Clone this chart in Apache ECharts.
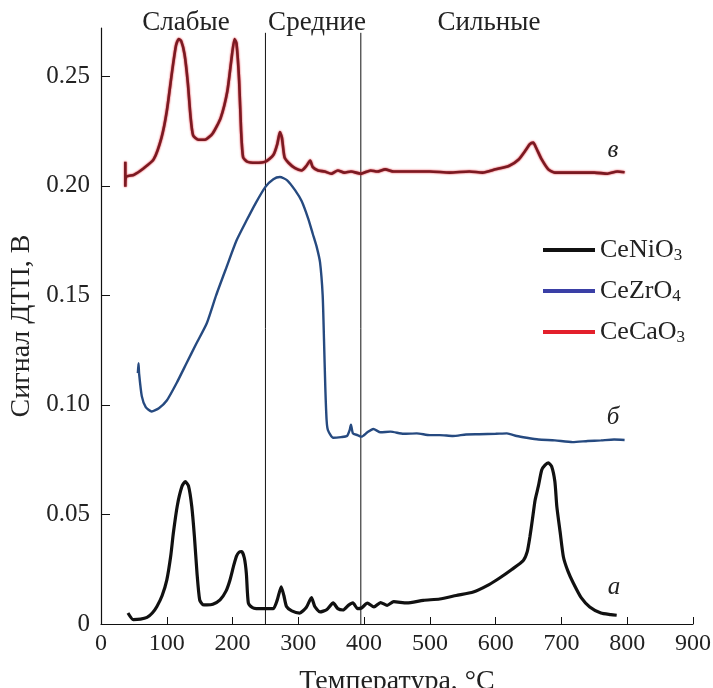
<!DOCTYPE html>
<html>
<head>
<meta charset="utf-8">
<style>
  html, body { margin: 0; padding: 0; background: #fff; }
  #chart { width: 713px; height: 688px; }
</style>
<script src="https://cdn.jsdelivr.net/npm/echarts@6/dist/echarts.min.js"></script>
</head>
<body>
<div id="chart"></div>
<script>
// --- data ---
var niTemp = [41, 49, 60, 70, 78, 85, 93, 100, 106, 110, 116, 123, 128, 133, 138, 142, 146, 150, 155, 161, 170, 181, 190, 196, 202, 206, 210, 214, 218, 221, 224, 230, 236, 250, 262, 268, 274, 278, 282, 290, 302, 312, 320, 325, 333, 343, 353, 360, 368, 376, 383, 390, 396, 405, 415, 425, 435, 445, 465, 490, 515, 540, 566, 590, 606, 625, 642, 648, 652, 656, 660, 665, 670, 675, 680, 685, 690, 693, 698, 703, 710, 718, 730, 743, 760, 775, 784];
var niSignal = [0.005, 0.002, 0.0022, 0.003, 0.005, 0.008, 0.013, 0.020, 0.031, 0.0415, 0.054, 0.0627, 0.065, 0.063, 0.0536, 0.040, 0.023, 0.011, 0.0088, 0.0087, 0.009, 0.011, 0.015, 0.020, 0.027, 0.031, 0.0328, 0.033, 0.030, 0.023, 0.0096, 0.0075, 0.007, 0.007, 0.007, 0.011, 0.017, 0.013, 0.008, 0.006, 0.005, 0.0075, 0.012, 0.008, 0.0055, 0.0065, 0.0096, 0.007, 0.0064, 0.0085, 0.0096, 0.007, 0.0073, 0.0095, 0.0078, 0.0098, 0.0085, 0.0102, 0.0096, 0.0108, 0.0114, 0.013, 0.0146, 0.018, 0.021, 0.025, 0.029, 0.033, 0.0397, 0.048, 0.0566, 0.063, 0.0703, 0.0725, 0.0735, 0.072, 0.065, 0.0536, 0.042, 0.0306, 0.024, 0.0187, 0.012, 0.0078, 0.005, 0.0043, 0.004];

var zrTemp = [56, 57, 58, 62, 68, 77, 88, 100, 115, 130, 145, 161, 175, 191, 206, 221, 235, 250, 262, 272, 283, 295, 305, 315, 322, 328, 333, 337, 339, 341, 343, 345, 353, 365, 374, 378, 380, 383, 390, 396, 405, 414, 425, 440, 460, 480, 500, 515, 535, 555, 575, 600, 617, 632, 647, 665, 690, 717, 740, 760, 780, 796];
var zrSignal = [0.1145, 0.119, 0.114, 0.104, 0.099, 0.097, 0.0985, 0.102, 0.110, 0.119, 0.128, 0.1374, 0.150, 0.163, 0.175, 0.184, 0.192, 0.1995, 0.203, 0.204, 0.2025, 0.198, 0.193, 0.185, 0.178, 0.172, 0.165, 0.150, 0.130, 0.108, 0.093, 0.0885, 0.085, 0.0853, 0.0858, 0.0885, 0.091, 0.087, 0.0862, 0.0855, 0.0875, 0.089, 0.0875, 0.0878, 0.0868, 0.087, 0.0862, 0.0862, 0.0858, 0.0865, 0.0866, 0.0868, 0.087, 0.0858, 0.085, 0.0842, 0.0838, 0.083, 0.0835, 0.0838, 0.0842, 0.084];

var caTemp = [37, 37, 38, 50, 65, 80, 92, 100, 108, 114, 118, 122, 127, 132, 136, 140, 148, 158, 170, 182, 192, 198, 203, 206, 210, 213, 216, 222, 235, 250, 262, 268, 272, 275, 279, 285, 295, 305, 312, 318, 322, 330, 340, 350, 360, 370, 380, 395, 410, 420, 432, 445, 470, 500, 530, 560, 580, 600, 620, 635, 645, 652, 657, 662, 670, 680, 690, 720, 750, 770, 785, 796];
var caSignal = [0.211, 0.1995, 0.204, 0.205, 0.208, 0.212, 0.222, 0.234, 0.252, 0.264, 0.267, 0.266, 0.260, 0.247, 0.232, 0.223, 0.221, 0.221, 0.224, 0.231, 0.243, 0.257, 0.267, 0.265, 0.248, 0.225, 0.213, 0.211, 0.2105, 0.211, 0.214, 0.219, 0.2245, 0.222, 0.213, 0.2105, 0.208, 0.207, 0.209, 0.2115, 0.2085, 0.207, 0.2065, 0.2055, 0.207, 0.206, 0.2065, 0.2055, 0.207, 0.2065, 0.2075, 0.2065, 0.2065, 0.2065, 0.206, 0.2065, 0.206, 0.2075, 0.209, 0.212, 0.216, 0.219, 0.2197, 0.217, 0.212, 0.2075, 0.206, 0.206, 0.206, 0.2055, 0.2065, 0.2062];

var seriesNames = ['CeNiO3', 'CeZrO4', 'CeCaO3'];
var boundaryTemps = [250, 395];
var regionNames = ['Слабые', 'Средние', 'Сильные'];
var curveTags = ['а', 'б', 'в'];
var yTicks = [0, 0.05, 0.10, 0.15, 0.20, 0.25];

function zip(xs, ys) {
  var out = [];
  for (var i = 0; i < xs.length; i++) out.push([xs[i], ys[i]]);
  return out;
}

var FONT = '"Liberation Serif", "DejaVu Serif", serif';
var chart = echarts.init(document.getElementById('chart'));

var lineSeries = [
  { name: seriesNames[0], data: zip(niTemp, niSignal), lineStyle: { color: '#111', width: 3.2 } },
  { name: seriesNames[1], data: zip(zrTemp, zrSignal), lineStyle: { color: '#264a80', width: 2.4 } },
  { name: seriesNames[2], data: zip(caTemp, caSignal), lineStyle: { color: '#7a1a22', width: 2.6, shadowColor: '#e0202c', shadowBlur: 2 } }
].map(function (s) {
  return {
    type: 'line', name: s.name, data: s.data, showSymbol: false, symbol: 'none',
    smooth: 0.2, lineStyle: s.lineStyle, itemStyle: { color: s.lineStyle.color }, z: 3
  };
});

var boundarySeries = boundaryTemps.map(function (t) {
  return {
    type: 'line', data: [[t, 0], [t, 0.2698]], showSymbol: false, symbol: 'none',
    silent: true, lineStyle: { color: '#111', width: 1 }, z: 2
  };
});

function label(text, x, y, font) {
  return { type: 'text', x: x, y: y, style: { text: text, font: font, fill: '#222', align: 'center', verticalAlign: 'middle' } };
}

var option = {
  animation: false,
  backgroundColor: '#fff',
  grid: { left: 101, right: 20, top: 28, bottom: 64, containLabel: false, outerBoundsMode: 'none' },
  xAxis: {
    type: 'value', min: 0, max: 900, interval: 100,
    name: 'Температура, °С', nameLocation: 'middle', nameGap: 44,
    nameTextStyle: { fontFamily: FONT, fontSize: 28, color: '#222' },
    axisLine: { lineStyle: { color: '#111', width: 1.2 } },
    axisTick: { inside: true, length: 7, lineStyle: { color: '#111' } },
    axisLabel: { fontFamily: FONT, fontSize: 24, color: '#222', margin: 8 },
    splitLine: { show: false }
  },
  yAxis: {
    type: 'value', min: 0, max: 0.272, interval: 0.05,
    name: 'Сигнал ДТП, В', nameLocation: 'middle', nameGap: 61,
    nameTextStyle: { fontFamily: FONT, fontSize: 28, color: '#222' },
    axisLine: { show: true, lineStyle: { color: '#111', width: 1.2 } },
    axisTick: { show: true, inside: true, length: 9, customValues: yTicks, lineStyle: { color: '#111' } },
    axisLabel: {
      fontFamily: FONT, fontSize: 25, color: '#222', margin: 11, customValues: yTicks,
      formatter: function (v) { return v === 0 ? '0' : v.toFixed(2); }
    },
    splitLine: { show: false }
  },
  legend: {
    orient: 'vertical', left: 538, top: 231,
    itemWidth: 52, itemHeight: 4, itemGap: 13, icon: 'rect',
    data: [
      { name: seriesNames[0], itemStyle: { color: '#111' } },
      { name: seriesNames[1], itemStyle: { color: '#3a3fa6' } },
      { name: seriesNames[2], itemStyle: { color: '#e3202b' } }
    ],
    formatter: function (n) { return n.replace(/(\d)$/, '{s|$1}'); },
    textStyle: {
      fontFamily: FONT, fontSize: 26, color: '#222', lineHeight: 28,
      rich: { s: { fontFamily: FONT, fontSize: 17, color: '#222', verticalAlign: 'bottom', lineHeight: 10 } }
    }
  },
  graphic: [
    label(regionNames[0], 186, 23, '27px ' + FONT),
    label(regionNames[1], 317, 23, '27px ' + FONT),
    label(regionNames[2], 489, 23, '27px ' + FONT),
    label(curveTags[0], 614, 587, 'italic 25px ' + FONT),
    label(curveTags[1], 613, 417, 'italic 25px ' + FONT),
    label(curveTags[2], 613, 150, 'italic 25px ' + FONT)
  ],
  series: lineSeries.concat(boundarySeries)
};

chart.setOption(option);
</script>
</body>
</html>
